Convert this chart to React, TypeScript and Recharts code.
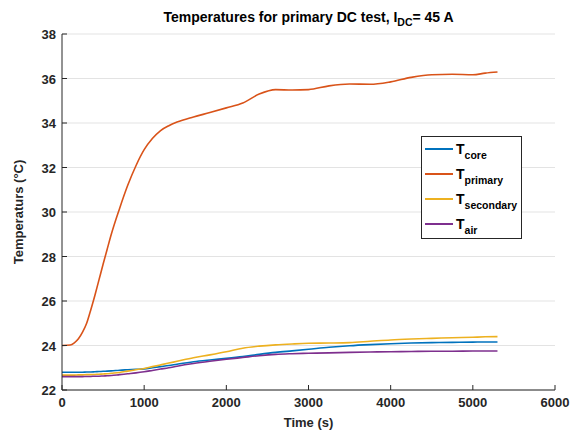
import { CartesianGrid, Line, LineChart, XAxis, YAxis } from "recharts";

const time = [
  0, 100, 150, 200, 250, 300, 350, 400, 450, 500, 550, 600, 700, 800, 900, 1000, 1100, 1200,
  1300, 1400, 1600, 1800, 2000, 2200, 2400, 2600, 2800, 3000, 3250, 3500, 3750, 4000, 4250,
  4500, 4750, 5000, 5150, 5300,
];

const tCore = [
  22.8, 22.8, 22.8, 22.8, 22.8, 22.81, 22.81, 22.82, 22.83, 22.84, 22.85, 22.86, 22.89, 22.91,
  22.93, 22.95, 23.0, 23.05, 23.1, 23.16, 23.27, 23.35, 23.42, 23.5, 23.6, 23.69, 23.76, 23.83,
  23.92, 23.99, 24.04, 24.08, 24.11, 24.13, 24.14, 24.15, 24.16, 24.16,
];
const tPrimary = [
  24.0, 24.02, 24.12, 24.3, 24.6, 25.0, 25.6, 26.25, 26.95, 27.65, 28.33, 29.0, 30.15, 31.2,
  32.08, 32.8, 33.3, 33.66, 33.88, 34.04, 34.27, 34.47, 34.68, 34.9, 35.3, 35.5, 35.48, 35.5,
  35.67, 35.75, 35.74, 35.85, 36.05, 36.17, 36.19, 36.17, 36.24, 36.29,
];
const tSecondary = [
  22.67, 22.67, 22.67, 22.68, 22.68, 22.69, 22.69, 22.7, 22.71, 22.72, 22.73, 22.75, 22.79,
  22.85, 22.91, 22.97, 23.05, 23.13, 23.21, 23.29, 23.45, 23.58, 23.72, 23.88, 23.97, 24.03,
  24.07, 24.1, 24.11, 24.13, 24.19, 24.25, 24.29, 24.32, 24.35, 24.37, 24.39, 24.4,
];
const tAir = [
  22.6, 22.6, 22.6, 22.6, 22.6, 22.61, 22.61, 22.62, 22.62, 22.63, 22.64, 22.65, 22.69, 22.73,
  22.77, 22.82, 22.88, 22.94, 23.0, 23.07, 23.19, 23.29, 23.38, 23.46, 23.54, 23.6, 23.63,
  23.65, 23.67, 23.69, 23.71, 23.72, 23.73, 23.74, 23.74, 23.75, 23.75, 23.75,
];

const xTicks = [0, 1000, 2000, 3000, 4000, 5000, 6000];
const yTicks = [22, 24, 26, 28, 30, 32, 34, 36, 38];

const series = [
  { key: "core", sub: "core", color: "#0072BD", values: tCore },
  { key: "primary", sub: "primary", color: "#D95319", values: tPrimary },
  { key: "secondary", sub: "secondary", color: "#EDB120", values: tSecondary },
  { key: "air", sub: "air", color: "#7E2F8E", values: tAir },
];

const data = time.map((t, i) => {
  const row: Record<string, number> = { t };
  series.forEach((s) => (row[s.key] = s.values[i]));
  return row;
});

const FONT = "'Liberation Sans', Arial, Helvetica, sans-serif";
const AXIS = "#262626";

const BottomTick = (p: any) => (
  <g>
    <line x1={p.x} y1={p.y} x2={p.x} y2={p.y - 5} stroke={AXIS} />
    <text x={p.x} y={p.y + 17} textAnchor="middle" fontSize={13} fontWeight="bold" fill={AXIS} fontFamily={FONT}>
      {p.payload.value}
    </text>
  </g>
);
const TopTick = (p: any) => <line x1={p.x} y1={p.y} x2={p.x} y2={p.y + 5} stroke={AXIS} />;
const LeftTick = (p: any) => (
  <g>
    <line x1={p.x} y1={p.y} x2={p.x + 5} y2={p.y} stroke={AXIS} />
    <text x={p.x - 6} y={p.y + 5} textAnchor="end" fontSize={13} fontWeight="bold" fill={AXIS} fontFamily={FONT}>
      {p.payload.value}
    </text>
  </g>
);
const RightTick = (p: any) => <line x1={p.x} y1={p.y} x2={p.x - 5} y2={p.y} stroke={AXIS} />;

function LegendBox() {
  return (
    <div
      style={{
        position: "absolute",
        left: 421,
        top: 136,
        border: "1px solid #262626",
        background: "#fff",
        width: 101,
        height: 103,
        boxSizing: "border-box",
        padding: "2px 0 0 3px",
        fontFamily: FONT,
        fontWeight: "bold",
        color: "#000",
      }}
    >
      {series.map((s) => (
        <div key={s.key} style={{ height: 25, display: "flex", alignItems: "center" }}>
          <span style={{ display: "inline-block", width: 28, height: 2, background: s.color, marginRight: 3, marginTop: -6 }} />
          <span style={{ fontSize: 14, lineHeight: "14px" }}>
            T<sub style={{ fontSize: 10.5, verticalAlign: "-5px" }}>{s.sub}</sub>
          </span>
        </div>
      ))}
    </div>
  );
}

export default function App() {
  return (
    <div style={{ position: "absolute", left: 0, top: 0, width: 571, height: 435, background: "#fff", fontFamily: FONT }}>
      <div
        style={{
          position: "absolute",
          left: 62,
          width: 493,
          top: 9,
          textAlign: "center",
          fontSize: 14,
          fontWeight: "bold",
          color: "#000",
        }}
      >
        Temperatures for primary DC test, I<sub style={{ fontSize: 10.5, verticalAlign: "-4px" }}>DC</sub>= 45 A
      </div>
      <LineChart width={571} height={435} data={data} margin={{ top: 34, right: 16, bottom: 0, left: 0 }}>
        <CartesianGrid horizontal vertical={false} stroke="#e3e3e3" yAxisId="left" />
        <XAxis
          dataKey="t"
          type="number"
          domain={[0, 6000]}
          ticks={xTicks}
          height={45}
          tickSize={0}
          tickMargin={0}
          tick={BottomTick}
          stroke={AXIS}
          interval={0}
          label={{ value: "Time (s)", position: "insideBottom", offset: 8, fontSize: 13, fontWeight: "bold", fill: AXIS, fontFamily: FONT }}
        />
        <XAxis
          xAxisId="top"
          orientation="top"
          dataKey="t"
          type="number"
          domain={[0, 6000]}
          ticks={xTicks}
          height={0}
          tickSize={0}
          tickMargin={0}
          tick={TopTick}
          stroke={AXIS}
          interval={0}
        />
        <YAxis
          yAxisId="left"
          type="number"
          domain={[22, 38]}
          ticks={yTicks}
          width={62}
          tickSize={0}
          tickMargin={0}
          tick={LeftTick}
          stroke={AXIS}
          interval={0}
          label={{ value: "Temperaturs (°C)", angle: -90, position: "insideLeft", offset: 18, fontSize: 13, fontWeight: "bold", fill: AXIS, fontFamily: FONT, style: { textAnchor: "middle" } }}
        />
        <YAxis
          yAxisId="right"
          orientation="right"
          type="number"
          domain={[22, 38]}
          ticks={yTicks}
          width={0}
          tickSize={0}
          tickMargin={0}
          tick={RightTick}
          stroke={AXIS}
          interval={0}
        />
        {series.map((s) => (
          <Line
            key={s.key}
            yAxisId="left"
            dataKey={s.key}
            type="monotone"
            stroke={s.color}
            strokeWidth={1.6}
            dot={false}
            isAnimationActive={false}
          />
        ))}
      </LineChart>
      <LegendBox />
    </div>
  );
}
